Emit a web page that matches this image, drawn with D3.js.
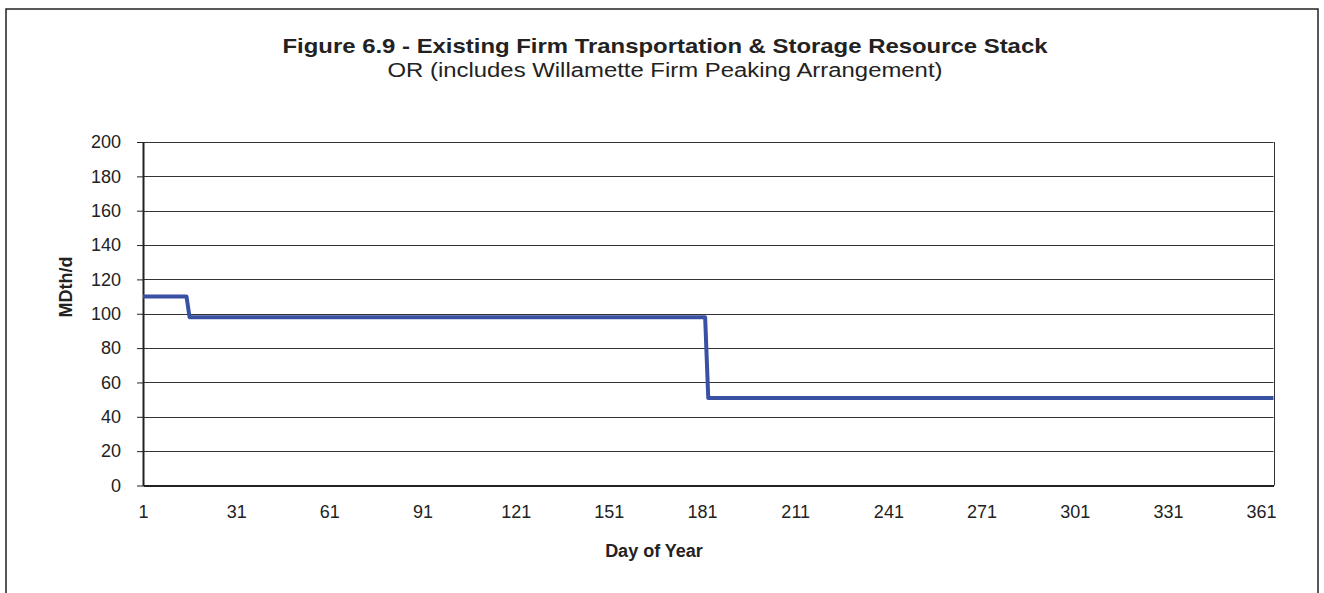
<!DOCTYPE html>
<html>
<head>
<meta charset="utf-8">
<script src="https://cdn.jsdelivr.net/npm/d3@7"></script>
<style>
  body { margin: 0; background: #fff; }
  text { font-family: "Liberation Sans", Arial, sans-serif; fill: #222; }
</style>
</head>
<body>
<div id="chart"></div>
<script>
// step series
const days = [1, 15, 16, 182, 183, 365];
const values = [110, 110, 98, 98, 51, 51];
const yTicks = [0, 20, 40, 60, 80, 100, 120, 140, 160, 180, 200];
const xTicks = [1, 31, 61, 91, 121, 151, 181, 211, 241, 271, 301, 331, 361];

const width = 1324, height = 593;
const margin = {top: 142, right: 50, bottom: 107, left: 143};

const svg = d3.select("#chart")
  .append("svg")
  .attr("width", width)
  .attr("height", height);

// outer frame
svg.append("rect")
  .attr("x", 6).attr("y", 9)
  .attr("width", 1312).attr("height", 600)
  .attr("fill", "none")
  .attr("stroke", "#222")
  .attr("stroke-width", 1.5);

const x = d3.scaleLinear()
  .domain([1, 365])
  .range([margin.left, width - margin.right - 0.5]);
const y = d3.scaleLinear()
  .domain([0, 200])
  .range([height - margin.bottom - 0.5, margin.top]);

// gridlines
svg.append("g")
  .selectAll("line")
  .data(yTicks.filter(d => d > 0))
  .enter()
  .append("line")
  .attr("x1", x(1)).attr("x2", x(365))
  .attr("y1", d => Math.round(y(d)) + 0.5)
  .attr("y2", d => Math.round(y(d)) + 0.5)
  .attr("stroke", "#333")
  .attr("stroke-width", 1);

// right border of plot area
svg.append("line")
  .attr("x1", Math.round(x(365)) + 0.5).attr("x2", Math.round(x(365)) + 0.5)
  .attr("y1", y(200)).attr("y2", y(0))
  .attr("stroke", "#333");

// y axis
const yAxis = svg.append("g")
  .attr("transform", `translate(${margin.left},0)`)
  .call(d3.axisLeft(y).tickValues(yTicks).tickSize(6).tickPadding(16).tickSizeOuter(0));
yAxis.select(".domain").attr("stroke", "#222").attr("stroke-width", 2);
yAxis.selectAll(".tick line").attr("stroke", "#222");
yAxis.selectAll(".tick text")
  .style("font-family", "'Liberation Sans', Arial, sans-serif")
  .style("font-size", "18px")
  .attr("fill", "#222");

// x axis (labels only, no ticks)
const xAxis = svg.append("g")
  .attr("transform", `translate(0,${y(0)})`)
  .call(d3.axisBottom(x).tickValues(xTicks).tickSize(0).tickPadding(20).tickSizeOuter(0));
xAxis.select(".domain").attr("stroke", "#222").attr("stroke-width", 2);
xAxis.selectAll(".tick text")
  .style("font-family", "'Liberation Sans', Arial, sans-serif")
  .style("font-size", "18px")
  .attr("fill", "#222");

// data line
const line = d3.line()
  .x((d, i) => x(days[i]))
  .y(d => y(d));
svg.append("path")
  .datum(values)
  .attr("d", line)
  .attr("fill", "none")
  .attr("stroke", "#3951a3")
  .attr("stroke-width", 4)
  .attr("stroke-linejoin", "round");

// titles
svg.append("text")
  .attr("x", 665).attr("y", 53)
  .attr("text-anchor", "middle")
  .attr("textLength", 765)
  .attr("lengthAdjust", "spacingAndGlyphs")
  .style("font-size", "21px")
  .style("font-weight", "bold")
  .text("Figure 6.9 - Existing Firm Transportation & Storage Resource Stack");
svg.append("text")
  .attr("x", 665).attr("y", 77)
  .attr("text-anchor", "middle")
  .attr("textLength", 555)
  .attr("lengthAdjust", "spacingAndGlyphs")
  .style("font-size", "20px")
  .text("OR (includes Willamette Firm Peaking Arrangement)");

svg.append("text")
  .attr("x", 654).attr("y", 557)
  .attr("text-anchor", "middle")
  .style("font-size", "18px")
  .style("font-weight", "bold")
  .text("Day of Year");

svg.append("text")
  .attr("transform", "translate(72,287) rotate(-90)")
  .attr("text-anchor", "middle")
  .style("font-size", "18px")
  .style("font-weight", "bold")
  .text("MDth/d");
</script>
</body>
</html>
